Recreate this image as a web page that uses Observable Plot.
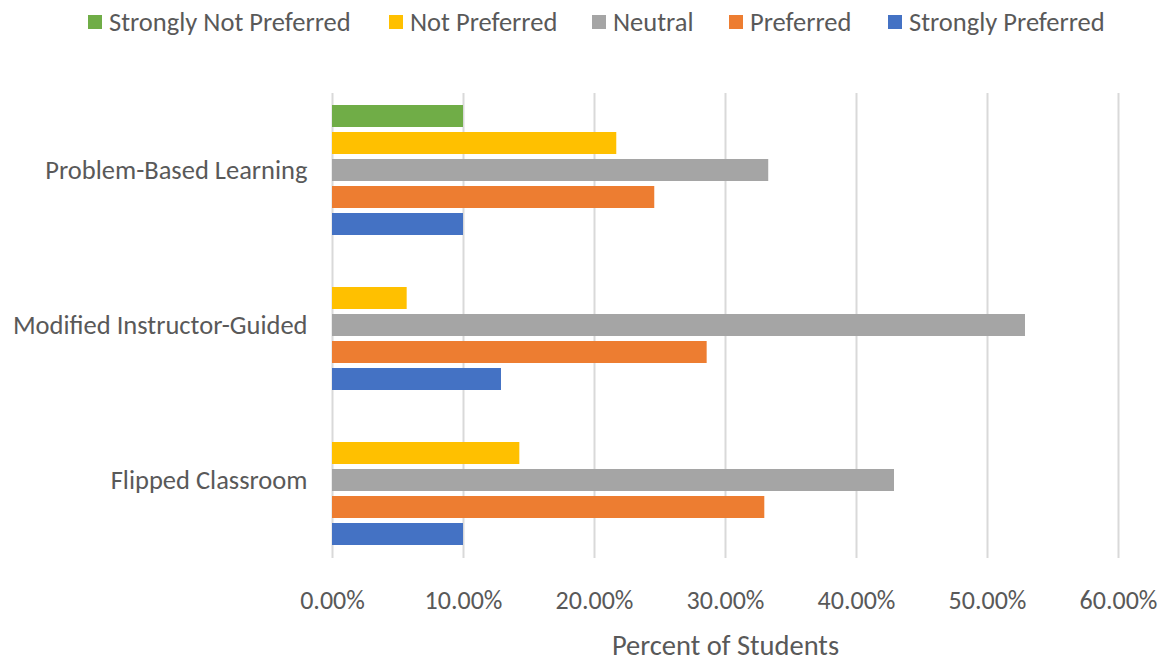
<!DOCTYPE html>
<html>
<head>
<meta charset="utf-8">
<script src="https://cdn.jsdelivr.net/npm/d3@7"></script>
<script src="https://cdn.jsdelivr.net/npm/@observablehq/plot@0.6"></script>
<style>
  html, body { margin: 0; padding: 0; background: #fff; }
  body { width: 1164px; height: 664px; overflow: hidden; font-family: Calibri, Carlito, Lato, sans-serif; }
  #legend { height: 50px; position: relative; }
  .item { position: absolute; top: 6px; display: flex; align-items: center; color: #595959; font-size: 26.5px; white-space: nowrap; }
  .sw { width: 14px; height: 14px; margin-right: 7px; display: inline-block; }
  svg { display: block; }
</style>
</head>
<body>
<div id="legend"></div>
<div id="chart"></div>
<script>
// Categories and series
const methods = ["Problem-Based Learning", "Modified Instructor-Guided", "Flipped Classroom"];
const levels = ["Strongly Not Preferred", "Not Preferred", "Neutral", "Preferred", "Strongly Preferred"];
const colors = ["#70AD47", "#FFC000", "#A5A5A5", "#ED7D31", "#4472C4"];

// Percent of students per method (order of methods above)
const stronglyNotPreferred = [10.0, null, null];
const notPreferred = [21.7, 5.7, 14.3];
const neutral = [33.3, 52.9, 42.9];
const preferred = [24.6, 28.6, 33.0];
const stronglyPreferred = [10.0, 12.9, 10.0];

const xTicks = [0, 10, 20, 30, 40, 50, 60];

const series = [stronglyNotPreferred, notPreferred, neutral, preferred, stronglyPreferred];
const data = [];
methods.forEach((m, i) => {
  levels.forEach((l, j) => {
    const v = series[j][i];
    if (v != null) data.push({method: m, level: l, value: v});
  });
});

// Legend (HTML, above the SVG)
const legendX = [88, 389, 592, 729, 888];
const legend = document.getElementById("legend");
levels.forEach((l, j) => {
  const d = document.createElement("div");
  d.className = "item";
  d.style.left = legendX[j] + "px";
  d.innerHTML = `<span class="sw" style="background:${colors[j]}"></span><span>${l}</span>`;
  legend.appendChild(d);
});

const fontFamily = "Calibri, Carlito, Lato, sans-serif";
const chart = Plot.plot({
  width: 1164,
  height: 614,
  marginLeft: 332,
  marginRight: 46,
  marginTop: 42,
  marginBottom: 105.5,
  style: {fontFamily, fontSize: "26px", color: "#595959", background: "#fff"},
  x: {domain: [0, 60]},
  fy: {domain: methods, padding: 0},
  y: {domain: levels, paddingInner: 0.17, paddingOuter: 0.42},
  color: {domain: levels, range: colors},
  marks: [
    Plot.gridX(xTicks, {stroke: "#D9D9D9", strokeOpacity: 1, strokeWidth: 2}),
    Plot.barX(data, {x: "value", y: "level", fy: "method", fill: "level"}),
    Plot.axisX({
      ticks: xTicks,
      tickFormat: d => d.toFixed(2) + "%",
      tickSize: 0,
      tickPadding: 32,
      fontSize: 26,
      label: null
    }),
    Plot.axisX({
      ticks: [],
      tickSize: 0,
      fontSize: 28.5,
      label: "Percent of Students",
      labelAnchor: "center",
      labelArrow: "none",
      labelOffset: 96
    }),
    Plot.axisY({ticks: [], label: null}),
    Plot.axisFy({anchor: "left", tickSize: 0, tickPadding: 25, fontSize: 26.5, label: null})
  ]
});
document.getElementById("chart").appendChild(chart);
</script>
</body>
</html>
